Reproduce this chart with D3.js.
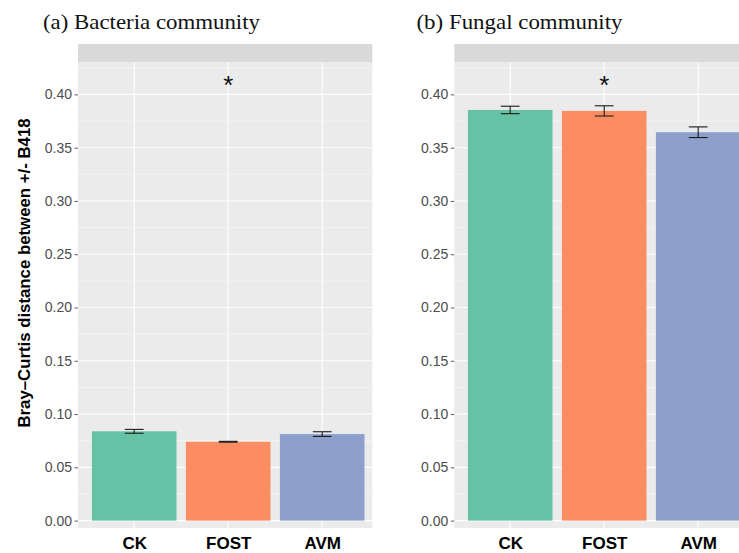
<!DOCTYPE html>
<html>
<head>
<meta charset="utf-8">
<script src="https://cdn.jsdelivr.net/npm/d3@7"></script>
<style>
  html, body { margin: 0; padding: 0; background: #ffffff; }
  svg { display: block; }
</style>
</head>
<body>
<svg id="chart" width="739" height="553"></svg>
<script>
// Treatment groups on the x axis
const categories = ["CK", "FOST", "AVM"];

// Mean Bray–Curtis distance and its standard error, bacteria
const bacteriaMean = [0.0838, 0.0740, 0.0812];
const bacteriaErr  = [0.0018, 0.0004, 0.0022];

// Mean Bray–Curtis distance and its standard error, fungi
const fungalMean = [0.3854, 0.3845, 0.3645];
const fungalErr  = [0.0035, 0.0048, 0.0050];

// Significance marks above each group
const bacteriaSig = ["", "*", ""];
const fungalSig   = ["", "*", ""];
const sigLevel = 0.4155;

// Y axis ticks and labels
const yTicks = [0, 0.05, 0.10, 0.15, 0.20, 0.25, 0.30, 0.35, 0.40];
const yMinor = [0.025, 0.075, 0.125, 0.175, 0.225, 0.275, 0.325, 0.375, 0.425];

const panelTitles = ["(a) Bacteria community", "(b) Fungal community"];
const yTitle = "Bray\u2013Curtis distance between +/- B418";

const fillColors = ["#66c2a5", "#fc8d62", "#8da0cb"];

const svg = d3.select("#chart");

// Shared vertical scale
const panelTop = 62, panelBottom = 528;
const y = d3.scaleLinear().domain([0, 0.40]).range([520.6, 94.4]);

function drawPanel(opts) {
  const { left, right, firstCenter, means, errs, sig, title, titleX, titleW } = opts;
  const step = 94;
  const x = d3.scalePoint()
    .domain(categories)
    .range([firstCenter, firstCenter + step * (categories.length - 1)]);
  const barW = step * 0.9;
  const errW = step * 0.2;

  const g = svg.append("g");

  // panel background
  g.append("rect")
    .attr("x", left).attr("y", panelTop)
    .attr("width", right - left).attr("height", panelBottom - panelTop)
    .attr("fill", "#ebebeb");

  // facet strip
  g.append("rect")
    .attr("x", left).attr("y", 44)
    .attr("width", right - left).attr("height", panelTop - 44)
    .attr("fill", "#d9d9d9");

  // minor gridlines
  g.selectAll("line.minor").data(yMinor).join("line")
    .attr("class", "minor")
    .attr("x1", left).attr("x2", right)
    .attr("y1", d => y(d)).attr("y2", d => y(d))
    .attr("stroke", "#f5f5f5").attr("stroke-width", 0.8);

  // major gridlines
  g.selectAll("line.major").data(yTicks).join("line")
    .attr("class", "major")
    .attr("x1", left).attr("x2", right)
    .attr("y1", d => y(d)).attr("y2", d => y(d))
    .attr("stroke", "#ffffff").attr("stroke-width", 1.1);

  g.selectAll("line.vmajor").data(categories).join("line")
    .attr("class", "vmajor")
    .attr("x1", d => x(d)).attr("x2", d => x(d))
    .attr("y1", panelTop).attr("y2", panelBottom)
    .attr("stroke", "#ffffff").attr("stroke-width", 1.1);

  // bars
  g.selectAll("rect.bar").data(categories).join("rect")
    .attr("class", "bar")
    .attr("x", d => x(d) - barW / 2)
    .attr("width", barW)
    .attr("y", (d, i) => y(means[i]))
    .attr("height", (d, i) => y(0) - y(means[i]))
    .attr("fill", (d, i) => fillColors[i]);

  // error bars
  const eb = g.selectAll("g.err").data(categories).join("g").attr("class", "err")
    .attr("stroke", "#1a1a1a").attr("stroke-width", 1.1).attr("fill", "none");
  eb.append("line")
    .attr("x1", d => x(d)).attr("x2", d => x(d))
    .attr("y1", (d, i) => y(means[i] + errs[i]))
    .attr("y2", (d, i) => y(means[i] - errs[i]));
  eb.append("line")
    .attr("x1", d => x(d) - errW / 2).attr("x2", d => x(d) + errW / 2)
    .attr("y1", (d, i) => y(means[i] + errs[i]))
    .attr("y2", (d, i) => y(means[i] + errs[i]));
  eb.append("line")
    .attr("x1", d => x(d) - errW / 2).attr("x2", d => x(d) + errW / 2)
    .attr("y1", (d, i) => y(means[i] - errs[i]))
    .attr("y2", (d, i) => y(means[i] - errs[i]));

  // significance marks
  g.selectAll("text.sig").data(categories).join("text")
    .attr("class", "sig")
    .attr("x", d => x(d))
    .attr("y", y(sigLevel))
    .attr("dy", "0.62em")
    .attr("text-anchor", "middle")
    .attr("font-family", "Liberation Sans, Arial, sans-serif")
    .attr("font-size", 26)
    .attr("fill", "#111")
    .text((d, i) => sig[i]);

  // y axis
  const yAxis = d3.axisLeft(y).tickValues(yTicks)
    .tickFormat(d3.format(".2f")).tickSize(3.5).tickPadding(2.5);
  const ya = g.append("g").attr("transform", `translate(${left},0)`).call(yAxis);
  ya.select(".domain").remove();
  ya.selectAll(".tick line").attr("stroke", "#4d4d4d").attr("stroke-width", 0.9);
  ya.selectAll(".tick text")
    .attr("font-family", "Liberation Sans, Arial, sans-serif")
    .attr("font-size", 14)
    .attr("fill", "#4d4d4d");

  // x axis labels
  const xAxis = d3.axisBottom(x).tickSize(0).tickPadding(9);
  const xa = g.append("g").attr("transform", `translate(0,${panelBottom})`).call(xAxis);
  xa.select(".domain").remove();
  xa.selectAll(".tick text")
    .attr("font-family", "Liberation Sans, Arial, sans-serif")
    .attr("font-size", 17)
    .attr("font-weight", "bold")
    .attr("fill", "#000");

  // panel title
  svg.append("text")
    .attr("x", titleX).attr("y", 29)
    .attr("font-family", "Liberation Serif, Times New Roman, serif")
    .attr("font-size", 21.5)
    .attr("textLength", titleW)
    .attr("lengthAdjust", "spacingAndGlyphs")
    .attr("fill", "#111")
    .text(title);
}

drawPanel({
  left: 78, right: 372.3, firstCenter: 134.2,
  means: bacteriaMean, errs: bacteriaErr, sig: bacteriaSig,
  title: panelTitles[0], titleX: 43, titleW: 217
});

drawPanel({
  left: 454.3, right: 750, firstCenter: 510.2,
  means: fungalMean, errs: fungalErr, sig: fungalSig,
  title: panelTitles[1], titleX: 416.5, titleW: 206
});

// shared y axis title
svg.append("text")
  .attr("transform", "translate(30,273) rotate(-90)")
  .attr("text-anchor", "middle")
  .attr("font-family", "Liberation Sans, Arial, sans-serif")
  .attr("font-size", 16.8)
  .attr("font-weight", "bold")
  .attr("fill", "#000")
  .text(yTitle);
</script>
</body>
</html>
